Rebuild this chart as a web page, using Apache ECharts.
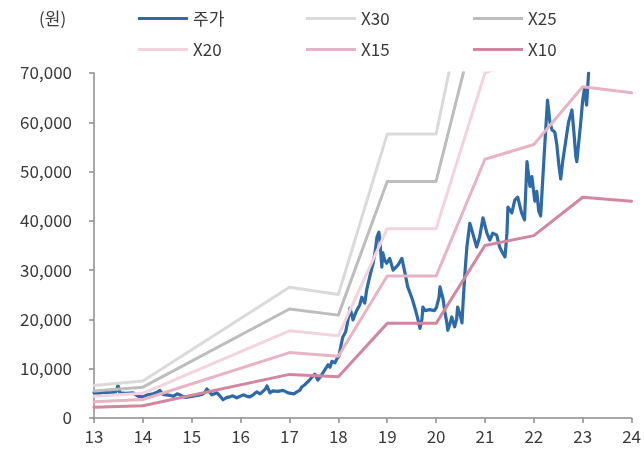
<!DOCTYPE html>
<html>
<head>
<meta charset="utf-8">
<script src="https://cdn.jsdelivr.net/npm/echarts@6/dist/echarts.min.js"></script>
<style>
  html, body { margin: 0; padding: 0; background: #fff; }
  #chart { width: 644px; height: 452px; }
</style>
</head>
<body>
<div id="chart"></div>
<script>
// Share price (원), sampled along the timeline (year = 13..24)
const priceYears = [
  13.00,13.10,13.20,13.35,13.45,13.49,13.53,13.65,13.80,13.90,14.00,14.10,14.21,14.29,14.35,14.41,14.45,14.55,14.62,14.70,
  14.76,14.84,14.90,15.00,15.11,15.21,15.27,15.31,15.37,15.41,15.52,15.58,15.64,15.72,15.78,15.84,15.92,15.99,16.05,16.13,
  16.19,16.27,16.33,16.40,16.44,16.50,16.54,16.60,16.66,16.70,16.76,16.80,16.87,16.91,16.97,17.01,17.09,17.15,17.21,17.25,
  17.32,17.36,17.42,17.46,17.52,17.58,17.62,17.66,17.72,17.79,17.83,17.87,17.93,17.97,18.01,18.05,18.09,18.15,18.19,18.24,
  18.30,18.34,18.38,18.44,18.48,18.54,18.58,18.64,18.71,18.75,18.79,18.83,18.85,18.89,18.91,18.95,18.99,19.05,19.12,19.16,
  19.22,19.30,19.36,19.42,19.48,19.52,19.59,19.63,19.67,19.71,19.73,19.77,19.81,19.87,19.91,19.97,20.01,20.06,20.08,20.12,
  20.14,20.18,20.22,20.24,20.28,20.32,20.38,20.42,20.44,20.49,20.53,20.55,20.59,20.63,20.69,20.75,20.83,20.89,20.96,21.04,
  21.10,21.16,21.24,21.30,21.36,21.41,21.45,21.47,21.51,21.55,21.61,21.67,21.75,21.81,21.86,21.92,21.96,22.02,22.06,22.10,
  22.14,22.18,22.24,22.28,22.33,22.37,22.43,22.47,22.51,22.55,22.59,22.65,22.71,22.78,22.82,22.86,22.88,22.92,22.96,23.00,
  23.04,23.06,23.08,23.12
];
const priceValues = [
  5100,5000,5200,5100,5300,6600,5100,5000,5100,4400,4300,4700,4900,5200,5600,4800,4500,4600,4400,4900,
  4700,4300,4200,4400,4600,4800,5200,5900,5200,4700,5100,4400,3700,4200,4300,4500,4100,4400,4700,4400,
  4300,4800,5300,4900,5100,5800,6500,5100,5500,5900,5400,5300,5600,5500,5100,5000,4900,5300,5600,6300,
  6800,7100,7800,8300,8900,7700,8200,8100,9700,10800,10300,11500,11200,12000,12500,14500,16400,17500,19500,22300,
  19900,21000,21900,23000,24500,23300,26000,28600,31400,33500,36700,37700,36000,30600,33500,32000,31400,32400,30000,29600,
  31000,32400,29600,26600,25000,23900,21500,19900,18200,20000,22500,21800,21500,22000,22300,21800,22500,24500,26600,25000,
  24300,21500,19300,17800,19000,20500,18500,20000,22500,21000,19300,23000,29400,34700,39500,37500,34700,36700,40600,37500,
  36100,37500,37100,34700,33500,32700,37500,42800,42800,41600,44200,44800,41600,40200,52000,47000,49000,44000,46000,42000,
  41000,48000,58000,64500,60000,58500,58000,55500,51500,48500,52000,56000,60000,62500,58000,53000,52000,56000,60000,64500,
  67000,65000,63500,70000
];

// Year-end EPS (원) used for the PER bands
const bandYears = [13, 14, 17, 18, 19, 20, 21, 22, 23, 24];
const eps = [220, 250, 885, 835, 1920, 1920, 3500, 3700, 4480, 4400];

// Band multiples and their colours
const bandNames = ['X30', 'X25', 'X20', 'X15', 'X10'];
const bandMultiples = [30, 25, 20, 15, 10];
const bandColors = ['#dadada', '#bdbdbd', '#f3d3dd', '#e8b3c3', '#d3879e'];
const priceColor = '#2d6aa7';

// Axis ticks
const yearTicks = { min: 13, max: 24, step: 1 };
const priceTicks = { min: 0, max: 70000, step: 10000 };

const FONT = '"Noto Sans CJK KR", "Noto Sans", sans-serif';
const TEXT = '#3a3a3a';
const AXIS = '#8c8c8c';

const priceData = priceYears.map((y, i) => [y, priceValues[i]]);

const series = [{
  name: '주가',
  type: 'line',
  data: priceData,
  showSymbol: false,
  symbol: 'none',
  lineStyle: { color: priceColor, width: 3.2, cap: 'round', join: 'round' },
  itemStyle: { color: priceColor },
  z: 2
}];
bandNames.forEach((name, k) => {
  series.push({
    name: name,
    type: 'line',
    data: bandYears.map((y, i) => [y, eps[i] * bandMultiples[k]]),
    showSymbol: false,
    symbol: 'none',
    clip: true,
    lineStyle: { color: bandColors[k], width: 3, cap: 'round', join: 'round' },
    itemStyle: { color: bandColors[k] },
    z: 3
  });
});

// One legend block per entry, laid out in two rows of three
const legendSlots = [
  ['주가', 138, 10], ['X30', 306, 10], ['X25', 473, 10],
  ['X20', 138, 41], ['X15', 306, 41], ['X10', 473, 41]
];
const legends = legendSlots.map(([name, x, y]) => ({
  data: [name],
  left: x,
  top: y,
  padding: 0,
  icon: 'rect',
  itemWidth: 50,
  itemHeight: 3,
  itemGap: 0,
  selectedMode: false,
  textStyle: { fontFamily: FONT, fontSize: 17, color: TEXT, padding: [0, 0, 0, 0] }
}));

const chart = echarts.init(document.getElementById('chart'), null, { renderer: 'canvas' });
chart.setOption({
  animation: false,
  backgroundColor: '#ffffff',
  legend: legends,
  graphic: [{
    type: 'text',
    left: 39,
    top: 10,
    style: { text: '(원)', font: '17px ' + FONT, fill: TEXT }
  }],
  grid: { left: 94, right: 12, top: 73, bottom: 34, containLabel: false },
  xAxis: {
    type: 'value',
    min: yearTicks.min,
    max: yearTicks.max,
    interval: yearTicks.step,
    axisLine: { show: true, lineStyle: { color: AXIS, width: 1.5 } },
    axisTick: { show: true, length: 5, lineStyle: { color: AXIS, width: 1.5 } },
    splitLine: { show: false },
    axisLabel: { fontFamily: FONT, fontSize: 17, color: TEXT, margin: 10 }
  },
  yAxis: {
    type: 'value',
    min: priceTicks.min,
    max: priceTicks.max,
    interval: priceTicks.step,
    axisLine: { show: true, lineStyle: { color: AXIS, width: 1.5 } },
    axisTick: { show: true, length: 5, lineStyle: { color: AXIS, width: 1.5 } },
    splitLine: { show: false },
    axisLabel: {
      fontFamily: FONT, fontSize: 17, color: TEXT, margin: 22,
      formatter: v => v.toLocaleString('en-US')
    }
  },
  series: series
});
</script>
</body>
</html>
